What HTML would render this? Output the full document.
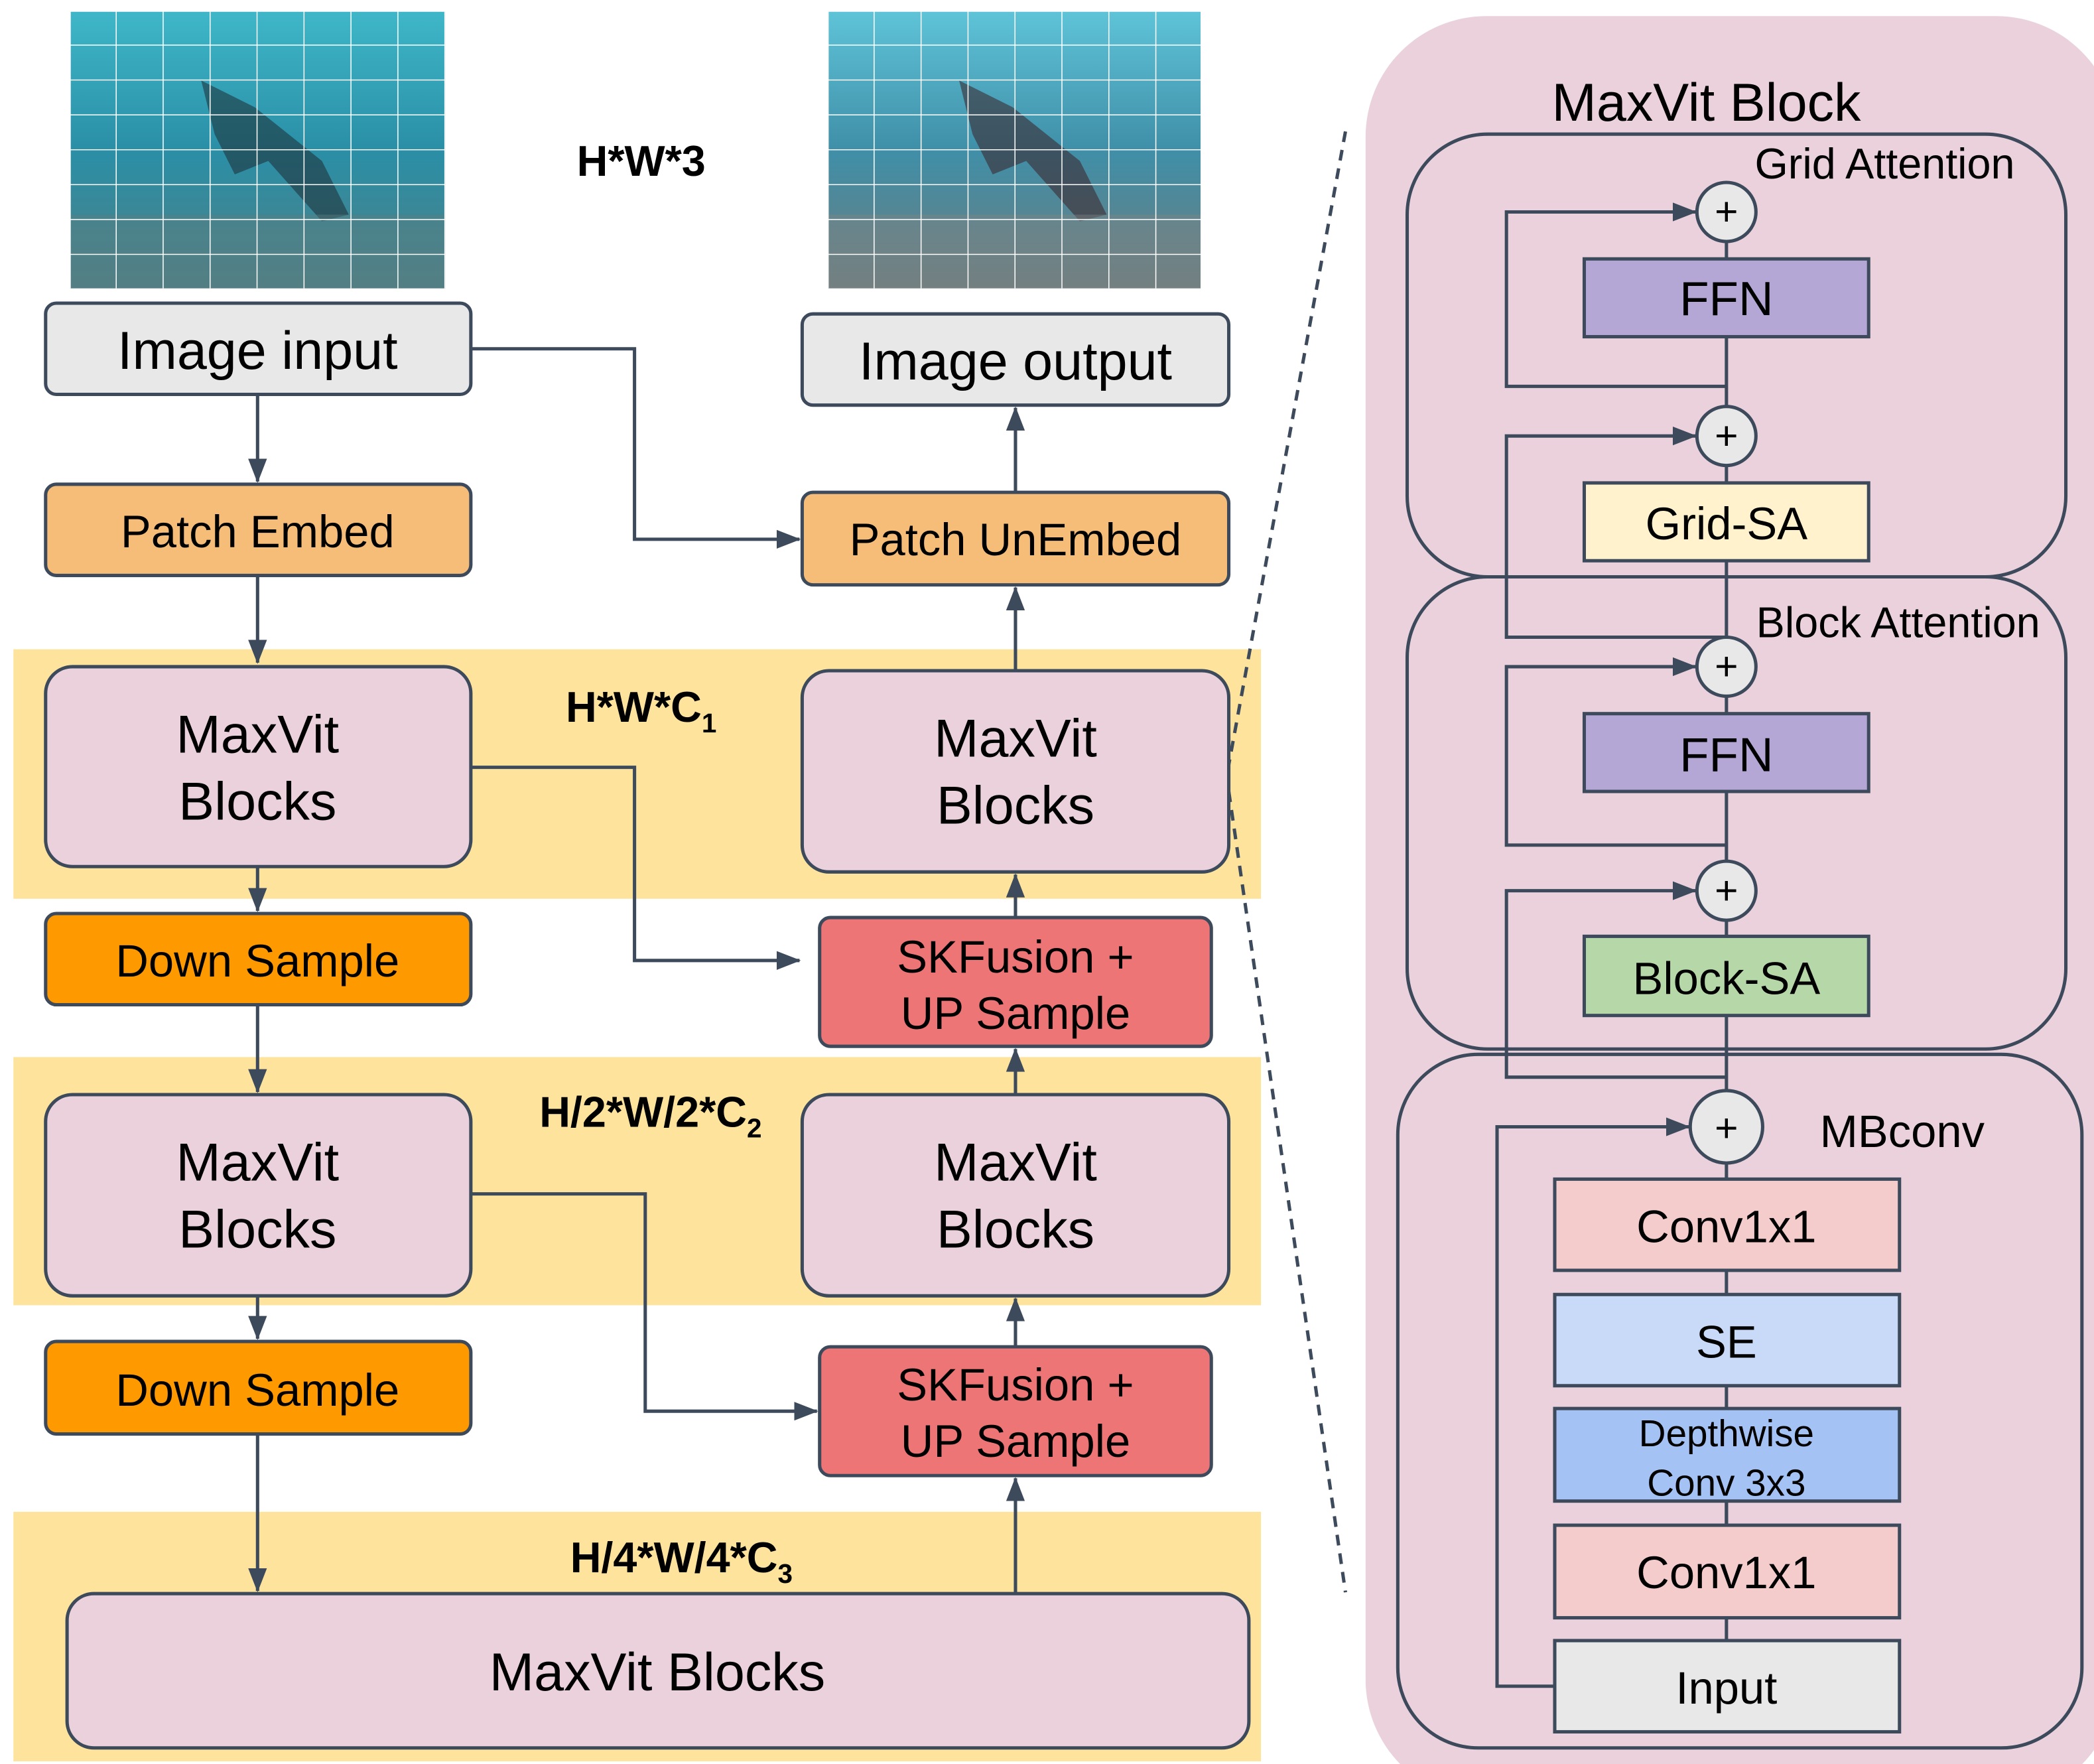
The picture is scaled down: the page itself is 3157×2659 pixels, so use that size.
<!DOCTYPE html>
<html><head><meta charset="utf-8"><style>
html,body{margin:0;padding:0;background:#fff}
svg{display:block}
text{font-family:"Liberation Sans",Arial,sans-serif;fill:#000}
</style></head><body>
<svg width="3157" height="2659" viewBox="0 0 1561 1315" preserveAspectRatio="none" xmlns="http://www.w3.org/2000/svg">
<defs>
<marker id="ah" markerWidth="18" markerHeight="14" refX="17" refY="7" orient="auto" markerUnits="userSpaceOnUse" viewBox="0 0 18 14">
<path d="M0,0 L18,7 L0,14 z" fill="#3d4a5c"/></marker>
<linearGradient id="sea" x1="0" y1="0" x2="0" y2="1">
<stop offset="0" stop-color="#3fb7c9"/><stop offset="0.5" stop-color="#2a8fa6"/><stop offset="1" stop-color="#4d7f86"/></linearGradient>
<linearGradient id="sea2" x1="0" y1="0" x2="0" y2="1">
<stop offset="0" stop-color="#5fc4d8"/><stop offset="0.5" stop-color="#3f8fa8"/><stop offset="1" stop-color="#6d7c7e"/></linearGradient>
<pattern id="grid" x="52" y="8" width="35" height="26" patternUnits="userSpaceOnUse">
<path d="M35,0 L35,26 M0,26 L35,26" stroke="#fff" stroke-width="1.5" fill="none"/></pattern>
<pattern id="grid2" x="617" y="8" width="35" height="26" patternUnits="userSpaceOnUse">
<path d="M35,0 L35,26 M0,26 L35,26" stroke="#fff" stroke-width="1.5" fill="none"/></pattern>
<clipPath id="c1"><rect x="52" y="8" width="280" height="207"/></clipPath>
<clipPath id="c2"><rect x="617" y="8" width="278" height="207"/></clipPath>
</defs>

<g clip-path="url(#c1)">
<rect x="52" y="8" width="280" height="207" fill="url(#sea)"/>
<path d="M150,60 L190,80 L240,120 L260,160 L240,165 L200,120 L175,130 L160,100 Z" fill="#1d2b33" opacity="0.55"/>
<rect x="52" y="160" width="280" height="55" fill="#5a7f80" opacity="0.45"/>
<rect x="52" y="8" width="280" height="207" fill="url(#grid)"/>
</g>
<g clip-path="url(#c2)">
<rect x="617" y="8" width="278" height="207" fill="url(#sea2)"/>
<path d="M715,60 L755,80 L805,120 L825,160 L805,165 L765,120 L740,130 L725,100 Z" fill="#3a2026" opacity="0.55"/>
<rect x="617" y="160" width="278" height="55" fill="#7c8584" opacity="0.45"/>
<rect x="617" y="8" width="278" height="207" fill="url(#grid2)"/>
</g>
<path d="M52,8 L52,215 M52,8 L332,8 M617,8 L617,215 M617,8 L895,8" stroke="#fff" stroke-width="1.5"/>

<rect x="10" y="484" width="930" height="186" fill="#fde39c"/>
<rect x="10" y="788" width="930" height="185" fill="#fde39c"/>
<rect x="10" y="1127" width="930" height="186" fill="#fde39c"/>

<g stroke="#3d4a5c" stroke-width="2.5">
<rect x="34" y="226" width="317" height="68" rx="8" fill="#e8e8e8"/>
<rect x="34" y="361" width="317" height="68" rx="8" fill="#f5bd78"/>
<rect x="34" y="497" width="317" height="149" rx="20" fill="#ead1dc"/>
<rect x="34" y="681" width="317" height="68" rx="8" fill="#ff9900"/>
<rect x="34" y="816" width="317" height="150" rx="20" fill="#ead1dc"/>
<rect x="34" y="1000" width="317" height="69" rx="8" fill="#ff9900"/>
<rect x="50" y="1188" width="881" height="115" rx="20" fill="#ead1dc"/>
<rect x="598" y="234" width="318" height="68" rx="8" fill="#e8e8e8"/>
<rect x="598" y="367" width="318" height="69" rx="8" fill="#f5bd78"/>
<rect x="598" y="500" width="318" height="150" rx="20" fill="#ead1dc"/>
<rect x="611" y="684" width="292" height="96" rx="8" fill="#ee7575"/>
<rect x="598" y="816" width="318" height="150" rx="20" fill="#ead1dc"/>
<rect x="611" y="1004" width="292" height="96" rx="8" fill="#ee7575"/>
</g>

<g text-anchor="middle">
<text x="192" y="275" font-size="40">Image input</text>
<text x="192" y="408" font-size="34">Patch Embed</text>
<text x="192" y="561" font-size="40">MaxVit</text><text x="192" y="611" font-size="40">Blocks</text>
<text x="192" y="728" font-size="34">Down Sample</text>
<text x="192" y="880" font-size="40">MaxVit</text><text x="192" y="930" font-size="40">Blocks</text>
<text x="192" y="1048" font-size="34">Down Sample</text>
<text x="490" y="1260" font-size="40">MaxVit Blocks</text>
<text x="757" y="283" font-size="40">Image output</text>
<text x="757" y="414" font-size="34">Patch UnEmbed</text>
<text x="757" y="564" font-size="40">MaxVit</text><text x="757" y="614" font-size="40">Blocks</text>
<text x="757" y="725" font-size="34">SKFusion +</text><text x="757" y="767" font-size="34">UP Sample</text>
<text x="757" y="880" font-size="40">MaxVit</text><text x="757" y="930" font-size="40">Blocks</text>
<text x="757" y="1044" font-size="34">SKFusion +</text><text x="757" y="1086" font-size="34">UP Sample</text>
<text x="478" y="131" font-size="32" font-weight="bold">H*W*3</text>
<text x="478" y="538" font-size="32" font-weight="bold">H*W*C<tspan font-size="20" dy="8">1</tspan></text>
<text x="485" y="840" font-size="32" font-weight="bold">H/2*W/2*C<tspan font-size="20" dy="8">2</tspan></text>
<text x="508" y="1172" font-size="32" font-weight="bold">H/4*W/4*C<tspan font-size="20" dy="8">3</tspan></text>
</g>

<g stroke="#3d4a5c" stroke-width="2.5" fill="none" marker-end="url(#ah)">
<path d="M192,294 V359"/><path d="M192,429 V494"/><path d="M192,646 V679"/>
<path d="M192,749 V814"/><path d="M192,966 V998"/><path d="M192,1069 V1186"/>
<path d="M757,1188 V1102"/><path d="M757,1004 V968"/><path d="M757,816 V782"/>
<path d="M757,684 V652"/><path d="M757,500 V438"/><path d="M757,367 V304"/>
<path d="M351,260 H473 V402 H596"/>
<path d="M351,572 H473 V716 H596"/>
<path d="M351,890 H481 V1052 H609"/>
</g>
<path d="M1003,98 L916,570 M916,590 L1003,1187" stroke="#3d4a5c" stroke-width="2.5" stroke-dasharray="8,6" fill="none"/>

<rect x="1018" y="12" width="560" height="1330" rx="90" fill="#ead1dc"/>
<text x="1272" y="90" font-size="40" text-anchor="middle">MaxVit Block</text>
<g stroke="#3d4a5c" stroke-width="2.5" fill="none">
<rect x="1049" y="100" width="491" height="330" rx="60"/>
<rect x="1049" y="430" width="491" height="352" rx="60"/>
<rect x="1042" y="786" width="510" height="517" rx="60"/>
<path d="M1287,1223 V136"/>
</g>
<g stroke="#3d4a5c" stroke-width="2.5" fill="none" marker-end="url(#ah)">
<path d="M1287,288 H1123 V158 H1264"/>
<path d="M1287,475 H1123 V325 H1264"/>
<path d="M1287,630 H1123 V497 H1264"/>
<path d="M1287,803 H1123 V664 H1264"/>
<path d="M1159,1257 H1116 V840 H1259"/>
</g>
<g stroke="#3d4a5c" stroke-width="2.5">
<rect x="1181" y="193" width="212" height="58" fill="#b4a7d6"/>
<rect x="1181" y="360" width="212" height="58" fill="#fff2cc"/>
<rect x="1181" y="532" width="212" height="58" fill="#b4a7d6"/>
<rect x="1181" y="698" width="212" height="59" fill="#b6d7a8"/>
<rect x="1159" y="879" width="257" height="68" fill="#f4cccc"/>
<rect x="1159" y="965" width="257" height="68" fill="#c9daf8"/>
<rect x="1159" y="1050" width="257" height="69" fill="#a4c2f4"/>
<rect x="1159" y="1137" width="257" height="69" fill="#f4cccc"/>
<rect x="1159" y="1223" width="257" height="68" fill="#e8e8e8"/>
<circle cx="1287" cy="158" r="22" fill="#e8e8e8"/>
<circle cx="1287" cy="325" r="22" fill="#e8e8e8"/>
<circle cx="1287" cy="497" r="22" fill="#e8e8e8"/>
<circle cx="1287" cy="664" r="22" fill="#e8e8e8"/>
<circle cx="1287" cy="840" r="27" fill="#e8e8e8"/>
</g>
<path d="M1287,1119 V1137" stroke="#3d4a5c" stroke-width="2.5"/>
<g text-anchor="middle">
<text x="1287" y="168" font-size="30">+</text><text x="1287" y="335" font-size="30">+</text>
<text x="1287" y="507" font-size="30">+</text><text x="1287" y="674" font-size="30">+</text>
<text x="1287" y="851" font-size="30">+</text>
<text x="1287" y="235" font-size="36">FFN</text>
<text x="1287" y="402" font-size="34">Grid-SA</text>
<text x="1287" y="575" font-size="36">FFN</text>
<text x="1287" y="741" font-size="34">Block-SA</text>
<text x="1287" y="926" font-size="34">Conv1x1</text>
<text x="1287" y="1012" font-size="34">SE</text>
<text x="1287" y="1078" font-size="28">Depthwise</text>
<text x="1287" y="1115" font-size="28">Conv 3x3</text>
<text x="1287" y="1184" font-size="34">Conv1x1</text>
<text x="1287" y="1270" font-size="34">Input</text>
<text x="1405" y="133" font-size="32">Grid Attention</text>
<text x="1415" y="475" font-size="32">Block Attention</text>
<text x="1418" y="855" font-size="34">MBconv</text>
</g>
</svg>
</body></html>
